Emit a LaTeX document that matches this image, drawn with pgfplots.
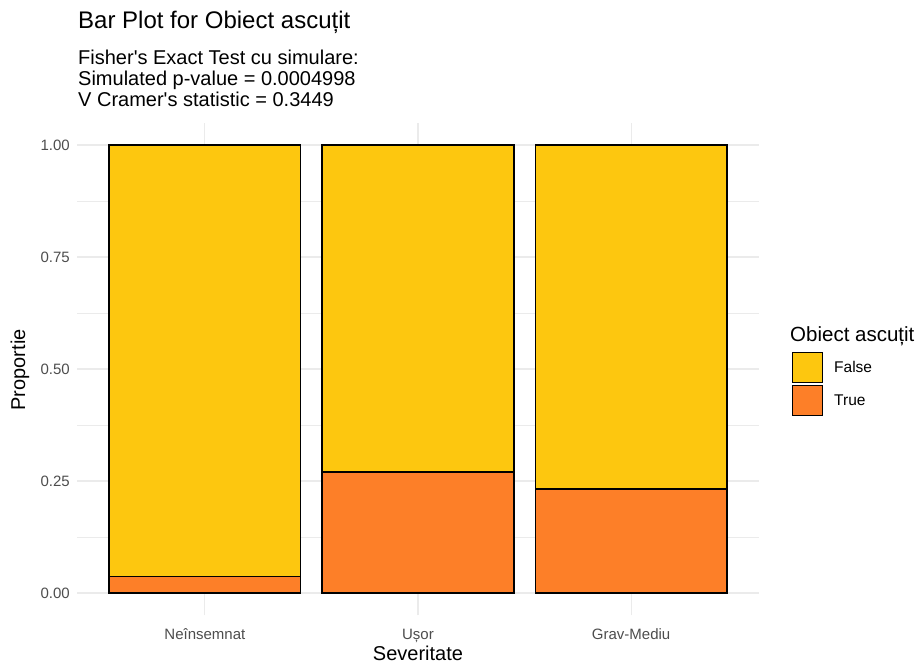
\documentclass[border=0pt]{standalone}
\usepackage{pgfplots}
\pgfplotsset{compat=1.18}
\usepackage{fontspec}
\setmainfont{Liberation Sans}
\definecolor{cFalse}{HTML}{FDC70F}
\definecolor{cTrue}{HTML}{FD7F28}
\definecolor{gridc}{HTML}{EBEBEB}
\definecolor{tickc}{HTML}{4D4D4D}
\begin{document}
\begin{tikzpicture}[x=1pt,y=1pt]
\useasboundingbox (0,0) rectangle (918,664);
\begin{axis}[
  at={(77pt,48.6pt)}, anchor=south west,
  scale only axis, width=682pt, height=492.8pt,
  xmin=0.4, xmax=3.6, ymin=-0.05, ymax=1.05,
  ybar stacked, bar width=0.9,
  xtick={1,2,3}, xticklabels={Neînsemnat,Ușor,Grav-Mediu},
  ytick={0,0.25,0.5,0.75,1}, minor ytick={0.125,0.375,0.625,0.875},
  /pgf/number format/assume math mode=true,
  yticklabel style={/pgf/number format/fixed, /pgf/number format/fixed zerofill, /pgf/number format/precision=2, inner sep=0pt, anchor=east, xshift=-7pt},
  xticklabel style={inner sep=0pt, anchor=base, yshift=-23.6pt},
  ticklabel style={font=\fontsize{15}{15}\selectfont, text=tickc},
  major tick length=0pt, minor tick length=0pt,
  axis line style={draw=none}, tick style={draw=none},
  xmajorgrids, ymajorgrids, yminorgrids,
  major grid style={gridc, line width=1.1pt},
  minor grid style={gridc, line width=0.55pt},
  legend image code/.code={\draw[#1, line width=1.2pt] (0pt,-15pt) rectangle (30pt,15pt);},
  reverse legend, legend cell align=left,
  legend style={at={(1.0484,0.5345)}, anchor=north west, draw=none, fill=none, inner sep=0pt, outer sep=0pt, row sep=2pt,
    font=\fontsize{15.5}{15.5}\selectfont, nodes={inner sep=0pt},
    /tikz/every odd column/.append style={column sep=11pt}},
]
\addplot[fill=cTrue, draw=black, line width=1.2pt] coordinates {(1,0.036) (2,0.270) (3,0.232)};
\addlegendentry{True}
\addplot[fill=cFalse, draw=black, line width=1.2pt] coordinates {(1,0.964) (2,0.730) (3,0.768)};
\addlegendentry{False}
\end{axis}
\node[anchor=base west, inner sep=0pt, font=\fontsize{24}{24}\selectfont] at (78,635) {Bar Plot for Obiect ascuțit};
\node[anchor=base west, inner sep=0pt, font=\fontsize{20}{20}\selectfont] at (78,599) {Fisher\textquotesingle s Exact Test cu simulare:};
\node[anchor=base west, inner sep=0pt, font=\fontsize{20}{20}\selectfont] at (78,578) {Simulated p-value = 0.0004998};
\node[anchor=base west, inner sep=0pt, font=\fontsize{20}{20}\selectfont] at (78,557) {V Cramer\textquotesingle s statistic = 0.3449};
\node[anchor=base, inner sep=0pt, font=\fontsize{20}{20}\selectfont] at (418,4) {Severitate};
\node[anchor=center, rotate=90, inner sep=0pt, font=\fontsize{20}{20}\selectfont] at (20,294) {Proportie};
\node[anchor=base west, inner sep=0pt, font=\fontsize{20.5}{20.5}\selectfont] at (790,322) {Obiect ascuțit};
\end{tikzpicture}
\end{document}
